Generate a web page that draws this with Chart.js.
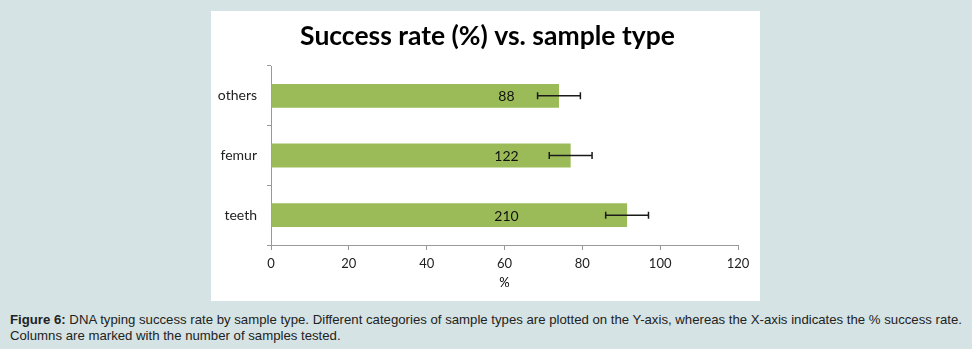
<!DOCTYPE html>
<html>
<head>
<meta charset="utf-8">
<script src="https://cdn.jsdelivr.net/npm/chart.js@4"></script>
<style>
  body { margin: 0; background: #d5e3e4; width: 972px; height: 349px; overflow: hidden; position: relative; }
  #panel { position: absolute; left: 211px; top: 11px; width: 549px; height: 290px; background: #fff; }
  #caption { position: absolute; left: 10px; top: 312px; width: 962px; font: 13.2px "Liberation Sans", Arial, sans-serif; line-height: 16px; color: #222; }
</style>
</head>
<body>
<div id="panel"><canvas id="wbChart" width="549" height="290"></canvas></div>
<div id="caption"><b>Figure 6:</b> DNA typing success rate by sample type. Different categories of sample types are plotted on the Y-axis, whereas the X-axis indicates the % success rate. Columns are marked with the number of samples tested.</div>
<script>
var chartTitle = 'Success rate (%) vs. sample type';
var sampleTypes = ['others', 'femur', 'teeth'];
var successRate = [74, 77, 91.5];
var errorSize = [5.5, 5.5, 5.5];
var sampleCounts = ['88', '122', '210'];

// title centred on the whole panel, error bars + sample counts over the bars
var extras = {
    id: 'extras',
    afterDraw: function (chart) {
        var ctx = chart.ctx;
        ctx.save();
        ctx.fillStyle = '#000';
        ctx.font = 'bold 26.5px Lato';
        ctx.textAlign = 'center';
        ctx.textBaseline = 'middle';
        ctx.fillText(chartTitle, chart.width / 2 + 2, 25);
        ctx.restore();
    },
    afterDatasetsDraw: function (chart) {
        var ctx = chart.ctx;
        var xs = chart.scales.x;
        var meta = chart.getDatasetMeta(0);
        ctx.save();
        meta.data.forEach(function (bar, i) {
            var y = bar.y;
            ctx.fillStyle = '#111';
            ctx.font = '14px Lato';
            ctx.textAlign = 'center';
            ctx.textBaseline = 'middle';
            ctx.fillText(sampleCounts[i], xs.getPixelForValue(60.5), y + 1);

            var x1 = xs.getPixelForValue(successRate[i] - errorSize[i]);
            var x2 = xs.getPixelForValue(successRate[i] + errorSize[i]);
            ctx.strokeStyle = '#1a1a1a';
            ctx.lineWidth = 1.5;
            ctx.beginPath();
            ctx.moveTo(x1, y); ctx.lineTo(x2, y);
            ctx.moveTo(x1, y - 3.5); ctx.lineTo(x1, y + 3.5);
            ctx.moveTo(x2, y - 3.5); ctx.lineTo(x2, y + 3.5);
            ctx.stroke();
        });
        ctx.restore();
    }
};

var ctx = document.getElementById('wbChart').getContext('2d');
var chart = new Chart(ctx, {
    type: 'bar',
    data: {
        labels: sampleTypes,
        datasets: [{
            data: successRate,
            backgroundColor: '#9bbb59',
            barPercentage: 0.4,
            categoryPercentage: 1.0
        }]
    },
    plugins: [extras],
    options: {
        indexAxis: 'y',
        responsive: false,
        animation: false,
        layout: { padding: { left: 0, right: 22, top: 55, bottom: 0 } },
        plugins: {
            legend: { display: false },
            tooltip: { enabled: false },
            title: { display: false }
        },
        scales: {
            x: {
                min: 0,
                max: 120,
                ticks: { stepSize: 20, color: '#222', font: { family: 'Lato', size: 13 }, padding: 6 },
                grid: { drawOnChartArea: false, tickLength: 5, color: '#999' },
                border: { color: '#999' },
                title: { display: true, text: '%', color: '#000', font: { family: 'Lato', size: 13 }, padding: { top: 0, bottom: 10 } },
                afterFit: function (s) { s.height = 56; }
            },
            y: {
                ticks: { color: '#222', font: { family: 'Lato', size: 14 }, padding: 10 },
                grid: { drawOnChartArea: false, offset: true, tickLength: 4, color: '#999' },
                border: { color: '#999' },
                afterFit: function (s) { s.width = 60; }
            }
        }
    }
});
</script>
</body>
</html>
